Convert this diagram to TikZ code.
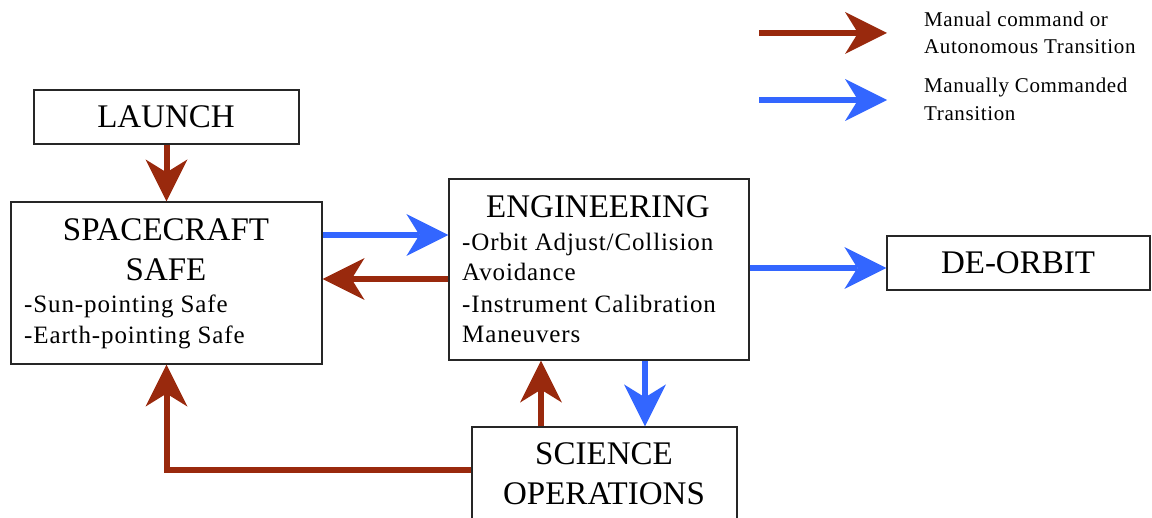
\documentclass[tikz,border=0pt]{standalone}
\usepackage{fontspec}
\setmainfont{Liberation Serif}
\newfontfamily\spaced[LetterSpace=3.5]{Liberation Serif}
\newfontfamily\legspaced[LetterSpace=3]{Liberation Serif}
\usetikzlibrary{arrows.meta}
\definecolor{arrred}{RGB}{153,41,13}
\definecolor{arrblue}{RGB}{51,102,255}
\tikzset{
  box/.style={draw=black!85, line width=1.2pt, fill=white, inner sep=0pt},
  ttl/.style={font=\fontsize{33}{40}\selectfont, anchor=base, inner sep=0pt},
  item/.style={font=\spaced\fontsize{25}{31}\selectfont, anchor=base west, inner sep=0pt},
  legtext/.style={font=\legspaced\fontsize{21}{28}\selectfont, anchor=base west, inner sep=0pt},
  tip/.style={-{Stealth[length=42pt,width=42pt,inset=13pt,line width=0pt]}},
  redarrow/.style={draw=arrred, line width=6pt, tip},
  bluearrow/.style={draw=arrblue, line width=6pt, tip},
}
\begin{document}
\begin{tikzpicture}[x=1pt,y=-1pt]
\useasboundingbox (0,0) rectangle (1152,518);
\clip (0,0) rectangle (1152,518);

% boxes
\node[box, minimum width=265pt, minimum height=54pt] (launch) at (166.5,117) {};
\node[box, minimum width=311pt, minimum height=162pt] (safe) at (166.5,283) {};
\node[box, minimum width=300pt, minimum height=181pt] (eng) at (599,269.5) {};
\node[box, minimum width=263pt, minimum height=54pt] (deorbit) at (1018.5,263) {};
\node[box, minimum width=265pt, minimum height=114pt] (sci) at (604.5,484) {};

% texts
\node[ttl] (tlaunch) at (166,128) {LAUNCH};
\node[ttl] (tsafe1) at (166,241) {SPACECRAFT};
\node[ttl] (tsafe2) at (166,281) {SAFE};
\node[item] (tsafe3) at (24,313) {-Sun-pointing Safe};
\node[item] (tsafe4) at (24,344) {-Earth-pointing Safe};
\node[ttl] (teng) at (598,218) {ENGINEERING};
\node[item] (teng1) at (462,251) {-Orbit Adjust/Collision};
\node[item] (teng2) at (462,281) {Avoidance};
\node[item] (teng3) at (462,313) {-Instrument Calibration};
\node[item] (teng4) at (462,343) {Maneuvers};
\node[ttl] (tdeorbit) at (1018,274) {DE-ORBIT};
\node[ttl] (tsci1) at (604,465) {SCIENCE};
\node[ttl] (tsci2) at (604,505) {OPERATIONS};

% legend
\coordinate (lr1) at (759,33);
\coordinate (lr2) at (887,33);
\coordinate (lb1) at (759,100);
\coordinate (lb2) at (887,100);
\draw[redarrow] (lr1) -- (lr2);
\draw[bluearrow] (lb1) -- (lb2);
\node[legtext] (leg1) at (924,27) {Manual command or};
\node[legtext] (leg2) at (924,54) {Autonomous Transition};
\node[legtext] (leg3) at (924,93) {Manually Commanded};
\node[legtext] (leg4) at (924,121) {Transition};

% connectors
\draw[redarrow] (launch.south) -- (safe.north);
\draw[bluearrow] ([yshift=48pt]safe.east) -- ([yshift=34.5pt]eng.west);
\draw[redarrow] ([yshift=-9.5pt]eng.west) -- ([yshift=4pt]safe.east);
\draw[bluearrow] ([yshift=1.5pt]eng.east) -- ([yshift=-5pt]deorbit.west);
\draw[redarrow] ([xshift=-63.5pt]sci.north) -- ([xshift=-58pt]eng.south);
\draw[bluearrow] ([xshift=46pt]eng.south) -- ([xshift=40.5pt]sci.north);
\draw[redarrow] ([yshift=14pt]sci.west) -| (safe.south);
\end{tikzpicture}
\end{document}
